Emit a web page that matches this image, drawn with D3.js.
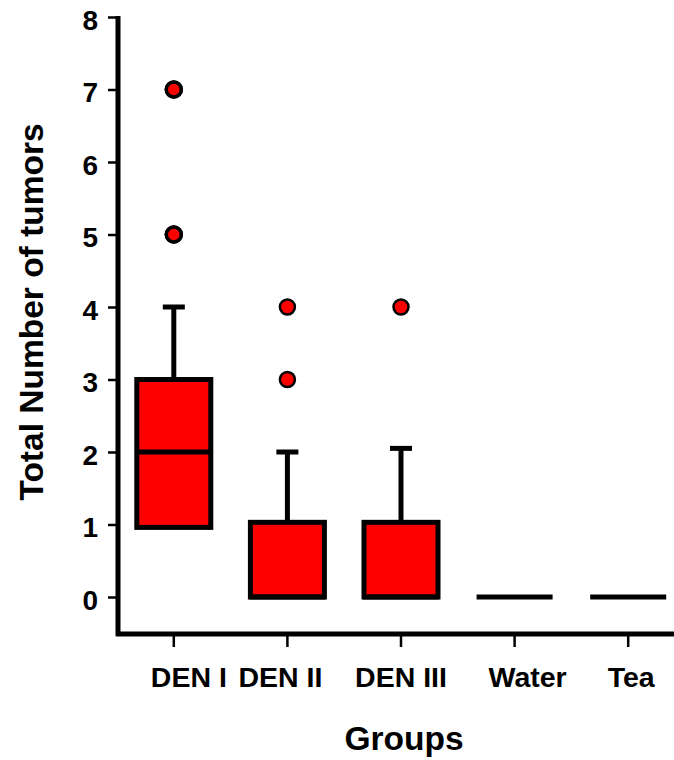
<!DOCTYPE html>
<html>
<head>
<meta charset="utf-8">
<script src="https://cdn.jsdelivr.net/npm/d3@7"></script>
<style>
  body { margin: 0; background: #fff; }
  text { font-family: Arial, 'Liberation Sans', sans-serif; font-weight: bold; fill: #000; }
</style>
</head>
<body>
<div id="boxplot"></div>
<script>
// Data
var groups       = [ 'DEN I', 'DEN II', 'DEN III', 'Water', 'Tea' ];
var q1           = [ 0.96, 0, 0, 0, 0 ];
var medians      = [ 2, 0, 0, 0, 0 ];
var q3           = [ 3, 1.03, 1.03, 0, 0 ];
var whisker_low  = [ 0.96, 0, 0, 0, 0 ];
var whisker_high = [ 4, 2, 2.05, 0, 0 ];
var outliers     = [ [ 7, 7, 5, 5 ], [ 4, 3 ], [ 4 ], [], [] ];
var y_ticks      = [ 0, 1, 2, 3, 4, 5, 6, 7, 8 ];

// label nudges as drawn in the original
var label_shift  = [ 15, -7, 0, 13, 3 ];

// The SVG Element
var chart_width  = 674;
var chart_height = 760;
var box_width    = 74;
var line_w       = 5;

var svg = d3.select( '#boxplot' )
    .append( 'svg' )
    .attr( 'width', chart_width )
    .attr( 'height', chart_height );

// Scales
var scale_x = d3.scaleBand()
    .domain( groups )
    .range([ 117, 685 ])
    .padding( 0 );

var scale_y = d3.scaleLinear()
    .domain([ -0.5, 8 ])
    .range([ 633.25, 17 ]);

function cx( i ) {
    return scale_x( groups[i] ) + scale_x.bandwidth() / 2;
}

// Y axis
var axis_y = d3.axisLeft( scale_y )
    .tickValues( y_ticks )
    .tickSize( 10 )
    .tickSizeOuter( 0 )
    .tickPadding( 10 );

var gy = svg.append( 'g' )
    .attr( 'class', 'y-axis' )
    .attr( 'transform', 'translate(118,0)' )
    .call( axis_y );

gy.select( '.domain' ).remove();
gy.selectAll( '.tick line' ).attr( 'stroke', '#000' ).attr( 'stroke-width', 2.5 );
gy.selectAll( '.tick text' )
    .style( 'font-size', '28px' )
    .attr( 'dy', '0.36em' )
    .attr( 'y', 2 );

// X axis
var axis_x = d3.axisBottom( scale_x )
    .tickSize( 13 )
    .tickSizeOuter( 0 )
    .tickPadding( 20 );

var gx = svg.append( 'g' )
    .attr( 'class', 'x-axis' )
    .attr( 'transform', 'translate(0,634)' )
    .call( axis_x );

gx.select( '.domain' ).remove();
gx.selectAll( '.tick line' ).attr( 'stroke', '#000' ).attr( 'stroke-width', 2.5 );
gx.selectAll( '.tick text' )
    .style( 'font-size', '28.5px' )
    .attr( 'dx', function( d, i ) { return label_shift[i]; } );

// Axis lines (thick)
svg.append( 'line' )
    .attr( 'x1', 118 ).attr( 'x2', 118 )
    .attr( 'y1', scale_y( 8 ) - 1 ).attr( 'y2', 636 )
    .attr( 'stroke', '#000' ).attr( 'stroke-width', line_w );

svg.append( 'line' )
    .attr( 'x1', 116 ).attr( 'x2', chart_width )
    .attr( 'y1', 634 ).attr( 'y2', 634 )
    .attr( 'stroke', '#000' ).attr( 'stroke-width', line_w );

// Boxes
var plot = svg.append( 'g' ).attr( 'id', 'boxes' );

groups.forEach( function( g, i ) {
    var x = cx( i );

    // whiskers
    if ( whisker_high[i] > q3[i] ) {
        plot.append( 'line' )
            .attr( 'x1', x ).attr( 'x2', x )
            .attr( 'y1', scale_y( q3[i] ) ).attr( 'y2', scale_y( whisker_high[i] ) )
            .attr( 'stroke', '#000' ).attr( 'stroke-width', 5 );
        plot.append( 'line' )
            .attr( 'x1', x - 11 ).attr( 'x2', x + 11 )
            .attr( 'y1', scale_y( whisker_high[i] ) ).attr( 'y2', scale_y( whisker_high[i] ) )
            .attr( 'stroke', '#000' ).attr( 'stroke-width', 5 );
    }
    if ( whisker_low[i] < q1[i] ) {
        plot.append( 'line' )
            .attr( 'x1', x ).attr( 'x2', x )
            .attr( 'y1', scale_y( q1[i] ) ).attr( 'y2', scale_y( whisker_low[i] ) )
            .attr( 'stroke', '#000' ).attr( 'stroke-width', 5 );
    }

    // box
    if ( q3[i] > q1[i] ) {
        plot.append( 'rect' )
            .attr( 'x', x - box_width / 2 )
            .attr( 'y', scale_y( q3[i] ) )
            .attr( 'width', box_width )
            .attr( 'height', scale_y( q1[i] ) - scale_y( q3[i] ) )
            .attr( 'fill', '#ff0000' )
            .attr( 'stroke', '#000' )
            .attr( 'stroke-width', line_w );
    }

    // median
    plot.append( 'line' )
        .attr( 'x1', x - box_width / 2 - 1 ).attr( 'x2', x + box_width / 2 + 1 )
        .attr( 'y1', scale_y( medians[i] ) ).attr( 'y2', scale_y( medians[i] ) )
        .attr( 'stroke', '#000' ).attr( 'stroke-width', line_w );

    // outliers
    plot.selectAll( null )
        .data( outliers[i] )
        .enter()
        .append( 'circle' )
        .attr( 'cx', x )
        .attr( 'cy', function( d ) { return scale_y( d ); } )
        .attr( 'r', 7.5 )
        .attr( 'fill', '#ff0000' )
        .attr( 'stroke', '#000' )
        .attr( 'stroke-width', function( d ) {
            var n = outliers[i].filter( function( v ) { return v === d; } ).length;
            return n > 1 ? 3.5 : 2.5;
        });
});

// Axis titles
svg.append( 'text' )
    .attr( 'transform', 'translate(43,312) rotate(-90)' )
    .attr( 'text-anchor', 'middle' )
    .style( 'font-size', '33.5px' )
    .text( 'Total Number of tumors' );

svg.append( 'text' )
    .attr( 'x', 404 )
    .attr( 'y', 750 )
    .attr( 'text-anchor', 'middle' )
    .style( 'font-size', '33.5px' )
    .text( 'Groups' );
</script>
</body>
</html>
